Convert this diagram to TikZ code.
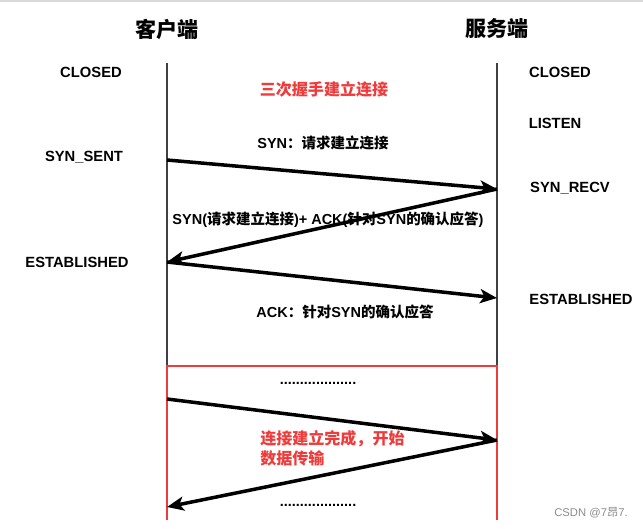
\documentclass[tikz,border=0pt]{standalone}
\usepackage{fontspec}
\setmainfont{Liberation Sans}
\newfontfamily\cjk{Noto Sans CJK SC}
\usetikzlibrary{arrows.meta}
\newcommand{\zh}[1]{{\cjk #1}}
\definecolor{hsred}{HTML}{EE3B3B}
\tikzset{
    title/.style={font=\fontsize{15}{17}\selectfont\bfseries\cjk},
    state/.style={font=\fontsize{10.5}{12}\selectfont\bfseries, inner sep=0pt},
    msg/.style={font=\fontsize{10.3}{12}\selectfont\bfseries, inner sep=0pt},
    note/.style={font=\fontsize{11.4}{14}\selectfont\bfseries\cjk, text=hsred, inner sep=0pt, align=left},
    lifeline/.style={draw=black!75, line width=0.8pt},
    redline/.style={draw=hsred, line width=0.9pt},
    arrow/.style={-{Stealth[length=12pt, width=10pt, inset=3pt]}, line width=2.5pt}
}
\begin{document}
\begin{tikzpicture}[x=0.025cm, y=-0.025cm]
    \useasboundingbox [fill=white] (0,0) rectangle (643,528);
    \draw [black!15, line width=1.4pt] (0,1) -- (643,1);
    % Titles
    \node [title] (client) at (167,29) {客户端};
    \node [title] (server) at (497,29) {服务端};
    % Lifelines
    \coordinate (ctop) at (167,63);
    \coordinate (stop) at (497,63);
    \coordinate (cmid) at (167,366);
    \coordinate (smid) at (497,366);
    \coordinate (cbot) at (167,520);
    \coordinate (sbot) at (497,520);
    \draw [lifeline] (ctop) -- (cmid);
    \draw [lifeline] (stop) -- (smid);
    \draw [redline] (cbot) -- (cmid) -- (smid) -- (sbot);
    % States
    \node [state] (cclosed) at (91,72) {CLOSED};
    \node [state] (sclosed) at (560,72) {CLOSED};
    \node [state] (listen) at (555,123) {LISTEN};
    \node [state] (synsent) at (84,157) {SYN\_SENT};
    \node [state] (synrecv) at (570,188) {SYN\_RECV};
    \node [state] (cest) at (77,262) {ESTABLISHED};
    \node [state] (sest) at (581,299) {ESTABLISHED};
    % Messages
    \coordinate (c1) at (167,160);
    \coordinate (s1) at (497,189);
    \coordinate (c2) at (167,262);
    \coordinate (s2) at (497,298);
    \coordinate (c3) at (167,399);
    \coordinate (s3) at (497,440);
    \coordinate (c4) at (167,507);
    \draw [arrow] (c1) -- (s1);
    \draw [arrow] (s1) -- (c2);
    \draw [arrow] (c2) -- (s2);
    \draw [arrow] (c3) -- (s3);
    \draw [arrow] (s3) -- (c4);
    \node [note] (handshake) at (324,89) {三次握手建立连接};
    \node [msg] (syn) at (323,143) {SYN\zh{：请求建立连接}};
    \node [msg] (synack) at (328,220) {SYN(\zh{请求建立连接})+ ACK(\zh{针对}SYN\zh{的确认应答})};
    \node [msg] (ack) at (345,312) {ACK\zh{：针对}SYN\zh{的确认应答}};
    \node [msg] (dots1) at (318,383) {...................};
    \node [note, anchor=west] (transfer) at (260,448) {连接建立完成，开始\\数据传输};
    \node [msg] (dots2) at (318,505) {...................};
    \node [font=\fontsize{8}{9}\selectfont, text=black!45, inner sep=0pt] (mark) at (591,513) {CSDN @7\zh{昂}7.};
\end{tikzpicture}
\end{document}
